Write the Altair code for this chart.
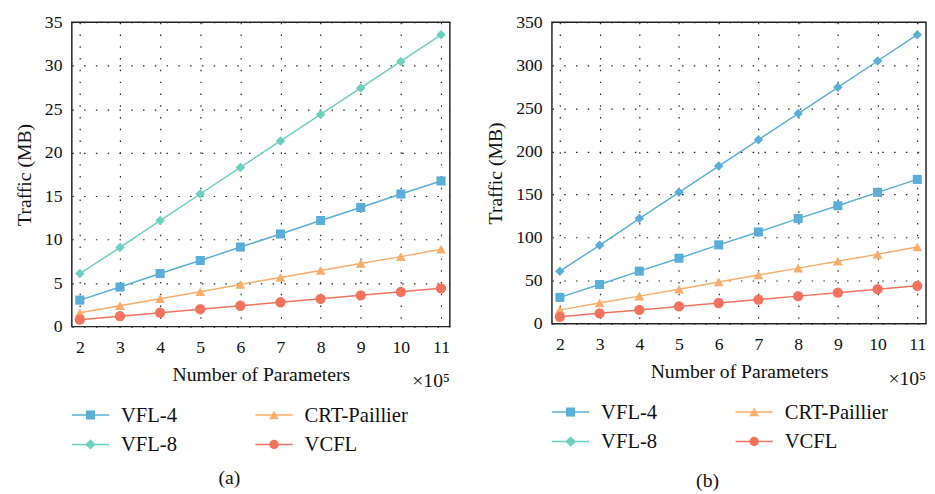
import altair as alt
import pandas as pd

params = [2, 3, 4, 5, 6, 7, 8, 9, 10, 11]
series = ["VFL-4", "VFL-8", "CRT-Paillier", "VCFL"]
shapes = ["square", "diamond", "triangle-up", "circle"]
sizes = [85, 110, 100, 90]
base_colors = ["#5aafd8", "#6ccfc0", "#f9ae6b", "#f3735f"]
b_line_colors = ["#5aafd8", "#5aafd8", "#f9ae6b", "#f3735f"]

# Panel (a) values, MB
a_vfl4 = [3.05, 4.55, 6.1, 7.6, 9.15, 10.65, 12.2, 13.7, 15.25, 16.75]
a_vfl8 = [6.1, 9.1, 12.2, 15.25, 18.3, 21.35, 24.4, 27.45, 30.5, 33.55]
a_crt = [1.6, 2.4, 3.2, 4.0, 4.85, 5.65, 6.45, 7.25, 8.05, 8.9]
a_vcfl = [0.8, 1.2, 1.6, 2.0, 2.4, 2.8, 3.2, 3.6, 4.0, 4.4]

# Panel (b) values, MB
b_vfl4 = [30.5, 45.5, 61, 76, 91.5, 106.5, 122, 137, 152.5, 167.5]
b_vfl8 = [61, 91, 122, 152.5, 183, 213.5, 244, 274.5, 305, 335.5]
b_crt = [16, 24, 32, 40, 48.5, 56.5, 64.5, 72.5, 80.5, 89]
b_vcfl = [8, 12, 16, 20, 24, 28, 32, 36, 40, 44]

FONT = "'Liberation Serif', 'DejaVu Serif', serif"


def long_df(cols):
    rows = []
    for name, vals in zip(series, cols):
        for p, v in zip(params, vals):
            rows.append({"series": name, "params": p, "traffic": v})
    return pd.DataFrame(rows)


def panel(df, ymax, ystep, line_colors, caption, W, H, cap_dy):
    xs = alt.X("params:Q",
               scale=alt.Scale(domain=[1.8, 11.22], nice=False, zero=False),
               axis=alt.Axis(values=params, title="Number of Parameters",
                             labelFontSize=18, titleFontSize=20, labelPadding=12,
                             titlePadding=9, titleFontWeight="normal",
                             ticks=False, grid=True, domain=False, labelFlush=False))
    ys = alt.Y("traffic:Q",
               scale=alt.Scale(domain=[0, ymax], nice=False),
               axis=alt.Axis(values=list(range(0, ymax + 1, ystep)),
                             title="Traffic (MB)", labelFontSize=18, titleFontSize=20,
                             labelPadding=10, titlePadding=10, titleFontWeight="normal",
                             ticks=False, grid=True, domain=False, labelFlush=False))
    col = alt.Color("series:N", scale=alt.Scale(domain=series, range=line_colors), legend=None)
    shp = alt.Shape("series:N", scale=alt.Scale(domain=series, range=shapes), legend=None)
    siz = alt.Size("series:N", scale=alt.Scale(domain=series, range=sizes), legend=None)
    base = alt.Chart(df)
    lines = base.mark_line(strokeWidth=1.5).encode(x=xs, y=ys, color=col, detail="series:N")
    pts = base.mark_point(filled=True, opacity=1).encode(x=xs, y=ys, color=col, shape=shp, size=siz)

    layers = [lines, pts]
    one = pd.DataFrame({"k": [0]})
    # legend (manual, below the plot)
    for i, name in enumerate(series):
        cx = 0 if i in (0, 1) else 187
        cy = H + 90 + (30 if i in (1, 3) else 0)
        c = base_colors[i]
        layers.append(alt.Chart(one).mark_rule(color=c, strokeWidth=1.5).encode(
            x=alt.value(cx), x2=alt.value(cx + 38), y=alt.value(cy)))
        layers.append(alt.Chart(one).mark_point(filled=True, size=sizes[i], opacity=1, color=c,
                                                shape=shapes[i]).encode(
            x=alt.value(cx + 19), y=alt.value(cy)))
        layers.append(alt.Chart(one).mark_text(align="left", baseline="middle", font=FONT,
                                               fontSize=21, color="#111").encode(
            x=alt.value(cx + 50), y=alt.value(cy + 1), text=alt.value(name)))
    layers.append(alt.Chart(one).mark_text(align="right", baseline="middle", font=FONT,
                                           fontSize=20, color="#111").encode(
        x=alt.value(W), y=alt.value(H + 56), text=alt.value("×10⁵")))
    layers.append(alt.Chart(one).mark_text(align="center", baseline="middle", font=FONT,
                                           fontSize=20, color="#111").encode(
        x=alt.value(W / 2 - 32), y=alt.value(H + cap_dy), text=alt.value(caption)))
    return alt.layer(*layers).properties(width=W, height=H)


pa = panel(long_df([a_vfl4, a_vfl8, a_crt, a_vcfl]), 35, 5, base_colors, "(a)", 385, 310, 154)
pb = panel(long_df([b_vfl4, b_vfl8, b_crt, b_vcfl]), 350, 50, b_line_colors, "(b)", 381, 307, 160)

chart = alt.hconcat(pa, pb, spacing=35).resolve_scale(
    color="independent", x="independent", y="independent"
).properties(
    padding={"left": 6, "top": 0, "right": 0, "bottom": 0}
).configure(
    font=FONT
).configure_view(
    stroke="#222", strokeWidth=1.5
).configure_axis(
    labelFont=FONT, titleFont=FONT, labelColor="#111", titleColor="#111",
    gridColor="#222", gridDash=[1.5, 10.5], gridWidth=1.2, gridOpacity=1
)

chart.save("out.html", embed_options={"renderer": "svg", "actions": False})
